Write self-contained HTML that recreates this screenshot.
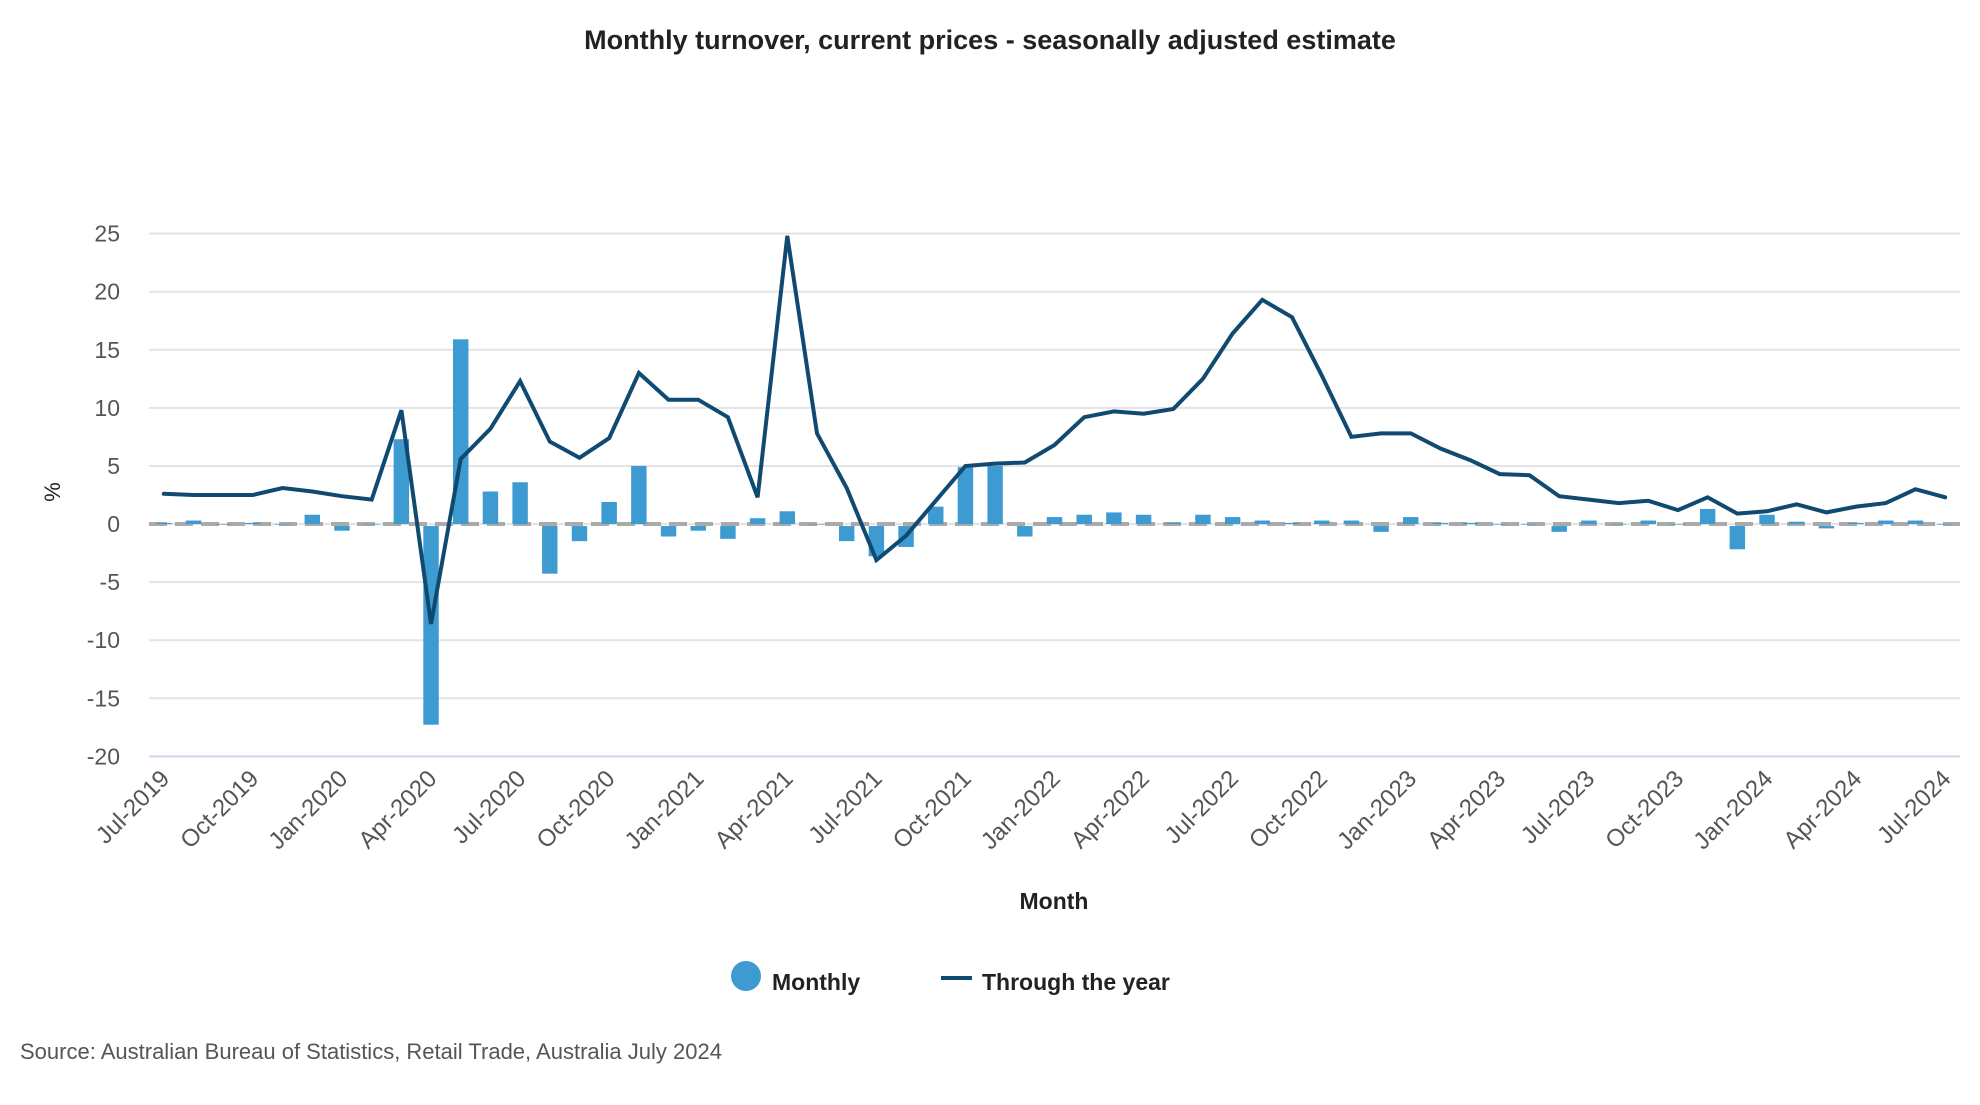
<!DOCTYPE html>
<html><head><meta charset="utf-8">
<style>
html,body{margin:0;padding:0;background:#fff;}
body{width:1980px;height:1100px;overflow:hidden;font-family:"Liberation Sans",sans-serif;}
svg text{font-family:"Liberation Sans",sans-serif;}
</style></head>
<body>
<svg id="chart" width="1980" height="1100" viewBox="0 0 1980 1100" xmlns="http://www.w3.org/2000/svg">
<text x="990" y="49" text-anchor="middle" font-size="27" font-weight="bold" fill="#222">Monthly turnover, current prices - seasonally adjusted estimate</text>
<g id="grid"></g>
<g id="ylabels"></g>
<g id="zero"></g>
<g id="bars"></g>
<g id="line"></g>
<g id="xlabels"></g>
<text x="0" y="0" transform="translate(60,492) rotate(-90)" text-anchor="middle" font-size="22" fill="#222">%</text>
<text x="1054" y="909" text-anchor="middle" font-size="23" font-weight="bold" fill="#222">Month</text>
<g>
<g>
<circle cx="746" cy="976" r="15" fill="#3d9bd1"/>
<text x="772" y="990" font-size="23" font-weight="bold" fill="#222">Monthly</text>
</g>
<g>
<line x1="941" y1="978" x2="972" y2="978" stroke="#104a70" stroke-width="4"/>
<text x="982" y="990" font-size="23" font-weight="bold" fill="#222">Through the year</text>
</g>
</g>
<text x="20" y="1059" font-size="22" fill="#555">Source: Australian Bureau of Statistics, Retail Trade, Australia July 2024</text>
</svg>
<script>
const months = ["Jul","Aug","Sep","Oct","Nov","Dec","Jan","Feb","Mar","Apr","May","Jun"];
const startYear = 2019;
const monthlyValues = [0.1,0.3,0.0,0.1,0.0,0.8,-0.4,0.0,7.3,-17.1,15.9,2.8,3.6,-4.1,-1.3,1.9,5.0,-0.9,-0.4,-1.1,0.5,1.1,0.0,-1.3,-2.6,-1.8,1.5,4.9,5.0,-0.9,0.6,0.8,1.0,0.8,0.1,0.8,0.6,0.3,0.1,0.3,0.3,-0.5,0.6,0.1,0.1,0.0,0.0,-0.5,0.3,0.0,0.3,0.0,1.3,-2.0,0.8,0.2,-0.2,0.1,0.3,0.3,0.0];
const throughYearValues = [2.6,2.5,2.5,2.5,3.1,2.8,2.4,2.1,9.8,-8.6,5.6,8.2,12.3,7.1,5.7,7.4,13.0,10.7,10.7,9.2,2.3,24.8,7.8,3.1,-3.1,-1.0,2.0,5.0,5.2,5.3,6.8,9.2,9.7,9.5,9.9,12.5,16.4,19.3,17.8,12.8,7.5,7.8,7.8,6.5,5.5,4.3,4.2,2.4,2.1,1.8,2.0,1.2,2.3,0.9,1.1,1.7,1.0,1.5,1.8,3.0,2.3];
const yTicks = [25,20,15,10,5,0,-5,-10,-15,-20];
const xTickEvery = 3;

const NS="http://www.w3.org/2000/svg";
const L=149,R=1960,T=233.6,B=756.4,yMax=25,yMin=-20;
const n=monthlyValues.length, band=(R-L)/n;
function xs(i){return L+band*(i+0.5);}
function ys(v){return T+(yMax-v)/(yMax-yMin)*(B-T);}
function mk(tag,attrs,parent){const e=document.createElementNS(NS,tag);for(const k in attrs)e.setAttribute(k,attrs[k]);parent.appendChild(e);return e;}
function catLabel(i){const y=startYear+Math.floor((6+i)/12);return months[i%12]+"-"+y;}

const grid=document.getElementById('grid'), yl=document.getElementById('ylabels');
yTicks.forEach(t=>{
  const ln=mk('line',{x1:L,x2:R,y1:ys(t),y2:ys(t),stroke:t===yMin?'#ccd6eb':'#e3e3e3','stroke-width':2},grid);
  
  
  const tx=mk('text',{x:120,y:ys(t)+8,'text-anchor':'end','font-size':23,fill:'#555'},yl);
  tx.textContent=String(t);
  
  
});

const zero=document.getElementById('zero');
const zl=mk('line',{x1:L,x2:R,y1:ys(0),y2:ys(0),stroke:'#aaaaaa','stroke-width':4,'stroke-dasharray':'18 8'},zero);



const bars=document.getElementById('bars');
monthlyValues.forEach((v,i)=>{
  const bw=band*0.52;
  const y0=ys(0), y1=ys(v);
  const r=mk('rect',{x:xs(i)-bw/2,y:Math.min(y0,y1)+(v<0?2:0),width:bw,height:Math.max(Math.abs(y1-y0),0.5),fill:'#3d9bd1'},bars);
  
  
});

const lg=document.getElementById('line');
const pts=throughYearValues.map((v,i)=>xs(i).toFixed(1)+","+ys(v).toFixed(1)).join(" ");
const pl=mk('polyline',{points:pts,fill:'none',stroke:'#104a70','stroke-width':4,'stroke-linejoin':'miter','stroke-linecap':'round'},lg);



const xl=document.getElementById('xlabels');
for(let i=0;i<n;i+=xTickEvery){
  const x=xs(i)+7, y=780;
  const t=mk('text',{x:x,y:y,'text-anchor':'end','font-size':24,fill:'#555',transform:`rotate(-45 ${x} ${y})`},xl);
  t.textContent=catLabel(i);
  
  
}
</script>
</body></html>
